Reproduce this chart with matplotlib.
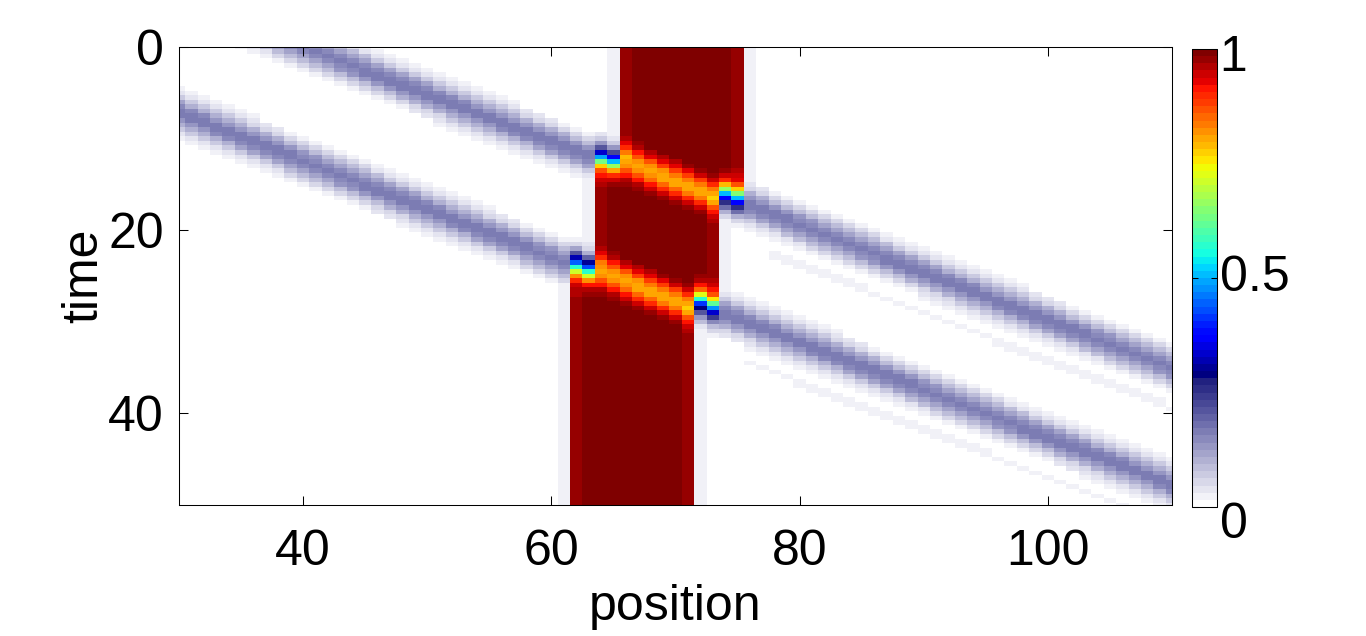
import numpy as np
import matplotlib
matplotlib.use("Agg")
import matplotlib.pyplot as plt
from matplotlib.colors import ListedColormap, Normalize

# ---------------- data ----------------
position_cells = np.arange(29, 112)          # cell centres (position)
time_rows = np.arange(0.0, 50.5, 0.5)        # row centres (time)

x_ticks = [40, 60, 80, 100]
y_ticks = [0, 20, 40]
cbar_ticks = [0, 0.5, 1]
cbar_labels = ["0", "0.5", "1"]

# two travelling pulses: anchor (position, time) and speed, before and after the block
pulse_in_pos = [46.0, 46.0]
pulse_in_time = [3.1, 15.6]
pulse_in_speed = [1.93, 1.90]
pulse_out_pos = [88.0, 88.0]
pulse_out_time = [23.6, 36.4]
pulse_out_speed = [1.92, 1.93]
pulse_peak = [0.165, 0.165]
pulse_width = [2.5, 2.5]
pulse_last_in_col = [65, 63]
pulse_first_out_col = [74, 72]

# faint echoes trailing the pulses after the block
echo_lag = [4.4, 4.4]
echo_peak = [0.018, 0.018]
echo_first_col = [78, 76]

# the saturated block: initial columns, and columns that join / leave with their times
block_start_cols = list(range(66, 76))
join_cols = [64, 65, 62, 63]
join_times = [12.0, 12.4, 23.6, 24.2]
leave_cols = [74, 75, 72, 73]
leave_times = [16.0, 16.5, 27.65, 28.4]
block_level = 1.0
block_edge_level = 0.975
block_halo_level = 0.02

# dip carried through the block by each pulse
dip_pos = [66.0, 64.0]
dip_time = [12.5, 24.5]
dip_speed = [1.85, 1.85]
dip_depth = [0.2, 0.2]

# ---------------- build field ----------------
P, T = np.meshgrid(position_cells, time_rows)
w = 0.65

def sigm(z):
    return 1.0 / (1.0 + np.exp(-z))

member = np.zeros_like(P, dtype=float)
for c in block_start_cols:
    member[:, position_cells == c] = 1.0
for c, tc in zip(join_cols, join_times):
    member[:, position_cells == c] = sigm((T[:, position_cells == c] - tc) / w)
for c, tc in zip(leave_cols, leave_times):
    member[:, position_cells == c] = 1.0 - sigm((T[:, position_cells == c] - tc) / w)

outside = np.zeros_like(P, dtype=float)
for k in range(2):
    sig = pulse_width[k]
    xin = pulse_in_pos[k] + pulse_in_speed[k] * (T - pulse_in_time[k])
    xout = pulse_out_pos[k] + pulse_out_speed[k] * (T - pulse_out_time[k])
    g_in = pulse_peak[k] * np.exp(-(P - xin) ** 2 / (2 * sig ** 2))
    g_out = pulse_peak[k] * np.exp(-(P - xout) ** 2 / (2 * sig ** 2))
    outside += np.where(P <= pulse_last_in_col[k], g_in, 0.0)
    outside += np.where(P >= pulse_first_out_col[k], g_out, 0.0)
    xe = pulse_out_pos[k] + pulse_out_speed[k] * (T - echo_lag[k] - pulse_out_time[k])
    ge = echo_peak[k] * np.exp(-(P - xe) ** 2 / (2 * 1.2 ** 2))
    outside += np.where(P >= echo_first_col[k], ge, 0.0)

inside = np.full_like(P, block_level, dtype=float)
for i in range(len(time_rows)):
    cols = position_cells[member[i] > 0.5]
    if len(cols):
        L, R = cols.min(), cols.max()
        inside[i, position_cells == L] = block_edge_level
        inside[i, position_cells == R] = block_edge_level
        for c in (L - 1, R + 1):
            j = position_cells == c
            outside[i, j] = np.maximum(outside[i, j], block_halo_level)
for k in range(2):
    xd = dip_pos[k] + dip_speed[k] * (T - dip_time[k])
    inside -= dip_depth[k] * np.exp(-(P - xd) ** 2 / (2 * 2.1 ** 2))

field = member * inside + (1 - member) * outside
field = np.clip(field, 0, 1)

# ---------------- colormap ----------------
n_low = 18
n_jet = 46
low = np.linspace([1.0, 1.0, 1.0], [0.13, 0.13, 0.50], n_low)
jet = plt.get_cmap("jet")(np.linspace(0, 1, n_jet))[:, :3]
cmap = ListedColormap(np.vstack([low, jet]))

# ---------------- plot ----------------
plt.rcParams['font.family'] = ['Liberation Sans', 'DejaVu Sans']
fs = 36

fig = plt.figure(figsize=(13.66, 6.36), dpi=100)
ax = fig.add_axes([179 / 1366, 131 / 636, 993 / 1366, 458 / 636])
dx = 0.5
dt = 0.25
im = ax.imshow(field, cmap=cmap, norm=Normalize(0, 1), aspect='auto',
               interpolation='nearest', origin='upper',
               extent=[position_cells[0] - dx, position_cells[-1] + dx,
                       time_rows[-1] + dt, time_rows[0] - dt])
ax.set_xlim(30, 110)
ax.set_ylim(50, 0)
ax.set_xticks(x_ticks)
ax.set_yticks(y_ticks)
ax.tick_params(direction='in', length=6.5, width=0.75, top=True, right=True,
               labelsize=fs, pad=17)
ax.tick_params(axis='y', pad=11)
for s in ax.spines.values():
    s.set_linewidth(0.75)
ax.set_xlabel("position", fontsize=fs)
ax.set_ylabel("time", fontsize=fs)
ax.xaxis.set_label_coords(0.5, (505 - 584) / 458)
ax.yaxis.set_label_coords((107 - 179) / 993, 0.5)

cax = fig.add_axes([1192 / 1366, 129 / 636, 25 / 1366, 458 / 636])
cb = fig.colorbar(im, cax=cax, ticks=cbar_ticks)
cb.outline.set_linewidth(0.75)
cax.tick_params(direction='in', length=4, width=0.75, left=True, right=True,
                labelleft=False, labelright=False)
label_base = [(507 - 538) / 458, (507 - 291) / 458, (507 - 71) / 458]
for lab, yb in zip(cbar_labels, label_base):
    cax.text(1.1, yb, lab, transform=cax.transAxes, ha='left', va='baseline',
             fontsize=fs)

fig.savefig("out.png", dpi=100)
